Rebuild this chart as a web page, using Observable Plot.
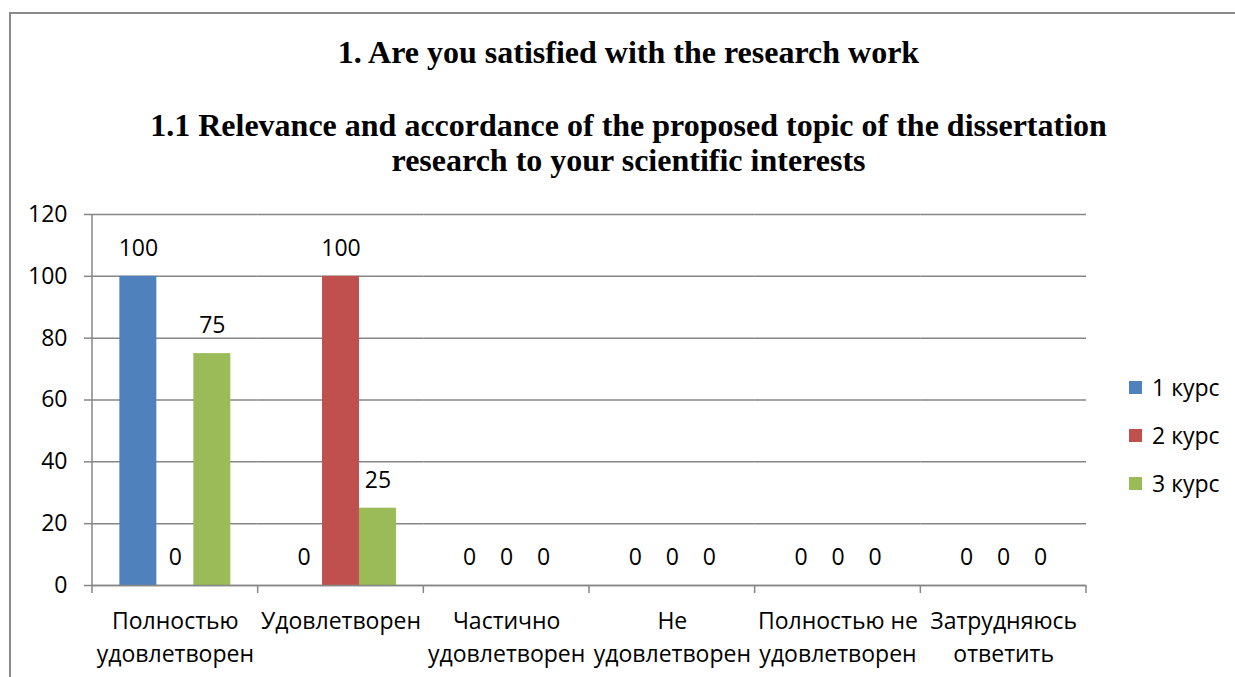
<!DOCTYPE html>
<html><head><meta charset="utf-8">
<script src="https://cdn.jsdelivr.net/npm/d3@7"></script>
<script src="https://cdn.jsdelivr.net/npm/@observablehq/plot@0.6"></script>
<style>
body{margin:0;background:#fff;width:1235px;height:677px;overflow:hidden;position:relative;font-family:"Open Sans",sans-serif;}
#frame{position:absolute;left:9px;top:12px;width:1240px;height:700px;border:2px solid #8a8a8a;box-sizing:border-box;}
.title{position:absolute;left:0;width:1257px;text-align:center;font-family:"Liberation Serif","Times New Roman",serif;font-weight:bold;font-size:32px;color:#000;white-space:nowrap;}
#chart{position:absolute;left:0;top:0;}
#legend{position:absolute;left:1129px;top:363px;font-size:23px;}
.row{height:48px;display:flex;align-items:center;}
.sw{width:13px;height:13px;margin-right:10px;}
</style></head><body>
<div id="frame"></div>
<div class="title" style="top:33px;line-height:38px">1. Are you satisfied with the research work</div>
<div class="title" style="top:108px;line-height:35px">1.1 Relevance and accordance of the proposed topic of the dissertation<br>research to your scientific interests</div>
<div id="chart"></div>
<div id="legend"></div>
<script>
const categories = ["Полностью\nудовлетворен", "Удовлетворен", "Частично\nудовлетворен", "Не\nудовлетворен", "Полностью не\nудовлетворен", "Затрудняюсь\nответить"];
const series = ["1 курс", "2 курс", "3 курс"];
const values1 = [100, 0, 0, 0, 0, 0];
const values2 = [0, 100, 0, 0, 0, 0];
const values3 = [75, 25, 0, 0, 0, 0];
const colors = ["#4F81BD", "#C0504D", "#9BBB59"];
const yTicks = [0, 20, 40, 60, 80, 100, 120];

const allValues = [values1, values2, values3];
const data = [];
categories.forEach((c, i) => series.forEach((s, j) => data.push({category: c, series: s, value: allValues[j][i]})));

const grey = "#868686";
const plot = Plot.plot({
  width: 1235, height: 677,
  marginLeft: 92, marginRight: 149, marginTop: 214, marginBottom: 92,
  style: {fontFamily: '"Open Sans", sans-serif', fontSize: "23px", color: "#000", background: "transparent"},
  fx: {domain: categories, padding: 0, label: null, round: false},
  x: {domain: series, paddingInner: 0, paddingOuter: 0.74, axis: null, round: false},
  y: {domain: [0, 120], ticks: yTicks, label: null},
  color: {domain: series, range: colors},
  marks: [
    Plot.gridY(yTicks, {stroke: grey, strokeOpacity: 1, strokeWidth: 1.5}),
    Plot.barY(data, {fx: "category", x: "series", y: "value", fill: "series"}),
    Plot.ruleY([0], {stroke: grey, strokeWidth: 1.5}),
    Plot.axisY(yTicks, {tickSize: 8, tickPadding: 17, stroke: grey, strokeWidth: 1.5, label: null, fontSize: 23}),
    Plot.axisFx({anchor: "bottom", tickSize: 0, tickPadding: 19, lineHeight: 1.47, label: null, fontSize: 23}),
    Plot.text(data, {fx: "category", x: "series", y: "value", text: d => String(d.value), dy: -28, lineAnchor: "middle", fontSize: 23})
  ]
});

const fx = plot.scale("fx");
const y = plot.scale("y");
const y0 = y.apply(0), yTop = y.apply(120);
const bounds = categories.map(c => fx.apply(c));
bounds.push(fx.apply(categories[categories.length - 1]) + fx.bandwidth);
const g = d3.select(plot).append("g").attr("stroke", grey).attr("stroke-width", 1.5);
g.append("line").attr("x1", bounds[0]).attr("x2", bounds[0]).attr("y1", yTop).attr("y2", y0);
bounds.forEach(b => g.append("line").attr("x1", b).attr("x2", b).attr("y1", y0).attr("y2", y0 + 8));
document.getElementById("chart").appendChild(plot);

const legend = document.getElementById("legend");
series.forEach((s, i) => {
  const row = document.createElement("div");
  row.className = "row";
  row.innerHTML = `<div class="sw" style="background:${colors[i]}"></div><span>${s}</span>`;
  legend.appendChild(row);
});
</script>
</body></html>
